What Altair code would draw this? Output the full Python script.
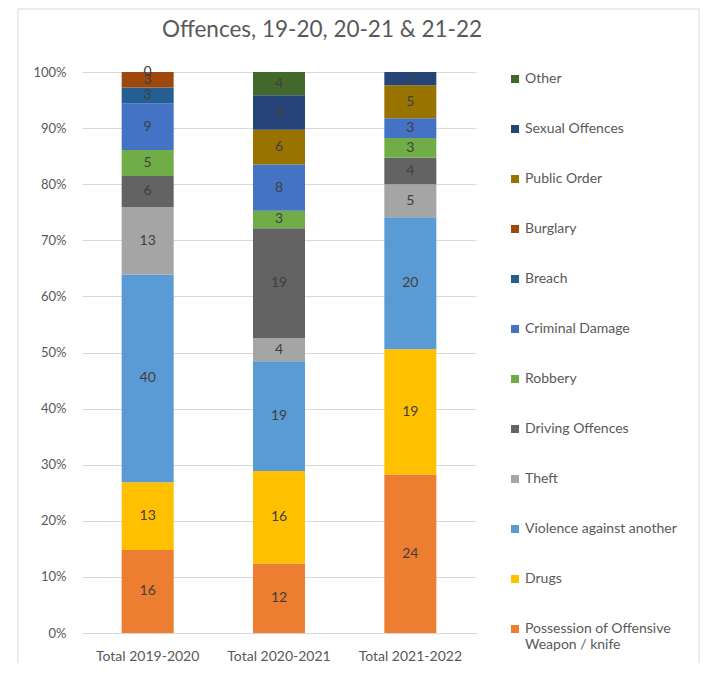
import altair as alt
import pandas as pd

years = ["Total 2019-2020", "Total 2020-2021", "Total 2021-2022"]
# stack order: bottom to top
offences = [
    "Possession of Offensive Weapon / knife",
    "Drugs",
    "Violence against another",
    "Theft",
    "Driving Offences",
    "Robbery",
    "Criminal Damage",
    "Breach",
    "Burglary",
    "Public Order",
    "Sexual Offences",
    "Other",
]
colors = [
    "#ED7D31", "#FFC000", "#5B9BD5", "#A5A5A5", "#636363", "#70AD47",
    "#4472C4", "#255E91", "#9E480E", "#997300", "#264478", "#43682B",
]
v_2019 = [16, 13, 40, 13, 6, 5, 9, 3, 3, None, None, 0]
v_2020 = [12, 16, 19, 4, 19, 3, 8, None, None, 6, 6, 4]
v_2021 = [24, 19, 20, 5, 4, 3, 3, None, None, 5, 2, None]

rows = []
for y, vals in zip(years, [v_2019, v_2020, v_2021]):
    for i, (o, v) in enumerate(zip(offences, vals)):
        if v is not None:
            rows.append({"year": y, "offence": o, "idx": i, "count": v})
df = pd.DataFrame(rows)

legend_order = offences[::-1]
legend_colors = colors[::-1]

FONT = "Lato"
GREY = "#595959"

base = alt.Chart(df).transform_stack(
    stack="count", groupby=["year"], sort=[alt.SortField("idx", order="ascending")],
    as_=["y0", "y1"], offset="normalize",
).transform_calculate(mid="(datum.y0 + datum.y1) / 2")

xenc = alt.X(
    "year:N", sort=years, title=None,
    scale=alt.Scale(paddingInner=0.604, paddingOuter=0.302),
    axis=alt.Axis(labelAngle=0, domain=True, domainColor="#D9D9D9", ticks=False,
                  labelFont=FONT, labelFontSize=14, labelColor=GREY, labelPadding=16),
)

bars = base.mark_bar().encode(
    x=xenc,
    y=alt.Y("y0:Q", scale=alt.Scale(domain=[0, 1]),
            axis=alt.Axis(format=".0%", values=[i / 10 for i in range(11)], title=None,
                          domain=False, ticks=False, grid=True, gridColor="#D9D9D9",
                          labelFont=FONT, labelFontSize=13, labelColor=GREY, labelPadding=16)),
    y2="y1:Q",
    color=alt.Color(
        "offence:N",
        scale=alt.Scale(domain=legend_order, range=legend_colors),
        legend=alt.Legend(
            title=None, orient="none", legendX=426, legendY=0,
            symbolType="square", symbolSize=64, symbolStrokeWidth=0,
            labelFont=FONT, labelFontSize=14, labelColor=GREY, labelOffset=3,
            rowPadding=36, padding=0, labelLimit=300,
            labelExpr="datum.label == 'Possession of Offensive Weapon / knife' ? ['Possession of Offensive', 'Weapon / knife'] : datum.label",
        ),
    ),
)

labels = base.mark_text(font=FONT, fontSize=14, color="#404040", baseline="middle").encode(
    x=alt.X("year:N", sort=years),
    y=alt.Y("mid:Q"),
    text=alt.Text("count:Q"),
)

one = alt.Chart(pd.DataFrame({"a": [0]}))
border = one.mark_rect(filled=False, stroke="#D9D9D9", strokeWidth=1).encode(
    x=alt.value(-64), x2=alt.value(617), y=alt.value(-63), y2=alt.value(700)
)
title = one.mark_text(font=FONT, fontSize=22.5, color=GREY, align="center", baseline="middle").encode(
    x=alt.value(240), y=alt.value(-42), text=alt.value("Offences, 19-20, 20-21 & 21-22")
)

chart = alt.layer(border, bars, labels, title).properties(
    width=394, height=561,
    autosize=alt.AutoSizeParams(type="none"),
    padding={"left": 74, "top": 64, "right": 238, "bottom": 30},
).configure_view(stroke=None)

chart.save("out.html", embed_options={"renderer": "svg", "actions": False})
